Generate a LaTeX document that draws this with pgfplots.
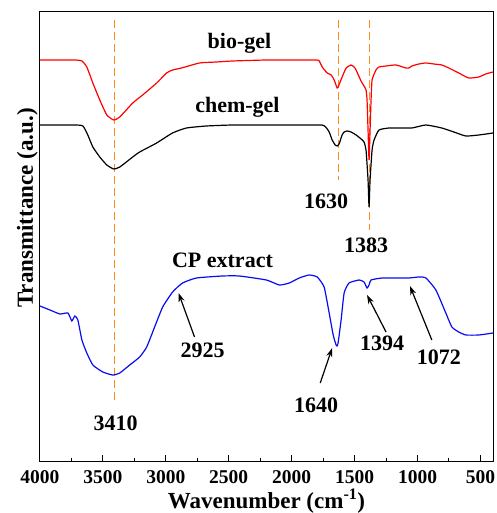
\documentclass[border=0pt]{standalone}
\usepackage{fontspec}
\setmainfont{Liberation Serif}
\usepackage{pgfplots}
\pgfplotsset{compat=1.18}
\usetikzlibrary{arrows.meta}
\definecolor{dashor}{RGB}{255,140,26}
\definecolor{cblue}{RGB}{10,10,240}
\begin{document}
\begin{tikzpicture}
\begin{axis}[
  at={(0,0)}, anchor=south west,
  scale only axis, width=453pt, height=449pt,
  x dir=reverse, xmin=400, xmax=4000, ymin=52, ymax=501,
  xtick={4000,3500,3000,2500,2000,1500,1000,500},
  minor x tick num=1,
  ytick=\empty,
  xtick pos=bottom, tick align=inside,
  major tick length=6pt, minor tick length=3.5pt,
  axis line style={line width=1pt},
  every tick/.style={line width=1pt, black},
  /pgf/number format/assume math mode=true,
  /pgf/number format/1000 sep={},
  xticklabel style={font=\fontsize{19.5}{23}\selectfont\bfseries, anchor=base, yshift=-22pt},
  xlabel={Wavenumber (cm\textsuperscript{-1})},
  xlabel style={font=\fontsize{23}{27}\selectfont\bfseries, at={(axis description cs:0.5,0)}, anchor=base, yshift=-47.5pt},
  ylabel={Transmittance (a.u.)},
  ylabel style={font=\fontsize{23}{27}\selectfont\bfseries, at={(axis description cs:-0.0155,0.5635)}, anchor=base},
  clip=true,
]
% dashed guide lines
\addplot[dashor, line width=1.3pt, dash pattern=on 8pt off 4pt] coordinates {(3410,493) (3410,113)};
\addplot[dashor, line width=1.3pt, dash pattern=on 8pt off 4pt] coordinates {(1630,493) (1630,333)};
\addplot[dashor, line width=1.3pt, dash pattern=on 8pt off 4pt] coordinates {(1383,493) (1383,283)};
% chem-gel (black)
\addplot[black, line width=1.2pt, smooth, tension=0.3] coordinates {
(4000,388) (3723,388) (3659,387) (3620,378) (3580,366) (3525,356) (3469,348) (3414,344)
(3366,346) (3263,356) (3208,361) (3073,370) (2947,380) (2836,385) (2677,387) (2471,388)
(2201,388) (1940,388) (1760,388) (1730,386) (1702,381) (1678,373) (1654,368) (1639,367)
(1623,369) (1599,378) (1583,381) (1559,382) (1528,381) (1488,378) (1448,374) (1425,371)
(1409,363) (1393,333) (1385,306) (1377,333) (1361,363) (1345,373) (1306,383) (1226,385)
(1147,385) (1044,385) (933,388) (807,385) (711,381) (616,377) (513,378) (400,380)};
% bio-gel (red)
\addplot[red, line width=1.2pt, smooth, tension=0.3] coordinates {
(4000,453) (3842,453) (3723,453) (3667,452) (3628,446) (3580,430) (3525,413) (3469,398)
(3414,393) (3366,396) (3263,410) (3184,418) (3073,430) (2994,440) (2946,443) (2875,445)
(2732,450) (2598,451) (2471,452) (2201,453) (2019,453) (1805,453) (1781,452) (1757,446)
(1718,440) (1686,438) (1662,433) (1639,425) (1631,426) (1615,431) (1599,436) (1567,445)
(1528,448) (1504,446) (1488,443) (1449,432) (1425,427) (1409,423) (1401,413) (1393,383)
(1385,353) (1377,383) (1369,413) (1361,433) (1330,443) (1306,446) (1250,447) (1171,448)
(1092,445) (1068,445) (1044,447) (989,449) (933,450) (870,449) (807,448) (751,445)
(672,440) (593,435) (513,436) (458,439) (400,441)};
% CP extract (blue)
\addplot[cblue, line width=1.2pt, smooth, tension=0.3] coordinates {
(4000,207) (3921,203) (3842,199) (3778,200) (3747,192) (3723,197) (3699,193)
(3667,173) (3628,160) (3580,148) (3501,141) (3422,138) (3366,140) (3287,148) (3208,156)
(3152,166) (3089,186) (3025,206) (2946,221) (2867,230) (2756,235) (2550,237) (2415,237)
(2201,233) (2098,228) (2019,230) (1940,235) (1861,238) (1797,236) (1742,226) (1702,200)
(1670,178) (1647,168) (1640,167) (1631,170) (1607,193) (1583,220) (1544,230) (1464,233)
(1425,231) (1401,225) (1385,228) (1369,233) (1282,235) (1147,235) (1068,235) (989,236)
(933,235) (854,223) (775,200) (727,186) (672,181) (616,178) (513,178) (400,180)};
% labels
\begin{scope}[every node/.style={font=\fontsize{22}{26}\selectfont\bfseries}]
\node at (axis cs:2415,470) {bio-gel};
\node at (axis cs:2431,406) {chem-gel};
\node at (axis cs:1726,312) {1630};
\node at (axis cs:1409,268) {1383};
\node at (axis cs:2550,253) {CP extract};
\node at (axis cs:2708,163) {2925};
\node at (axis cs:1282,170) {1394};
\node at (axis cs:830,156) {1072};
\node at (axis cs:1805,108) {1640};
\node at (axis cs:3398,90) {3410};
\end{scope}
\begin{scope}[line width=1.2pt, -{Stealth[length=9pt,width=6pt]}]
\draw (axis cs:2772,176) -- (axis cs:2899,220);
\draw (axis cs:1250,181) -- (axis cs:1401,218);
\draw (axis cs:886,173) -- (axis cs:1060,227);
\draw (axis cs:1773,130) -- (axis cs:1678,165);
\end{scope}
\end{axis}
\pgfresetboundingbox
\path[use as bounding box] (-40pt,-52pt) rectangle (456pt,461pt);
\end{tikzpicture}
\end{document}
